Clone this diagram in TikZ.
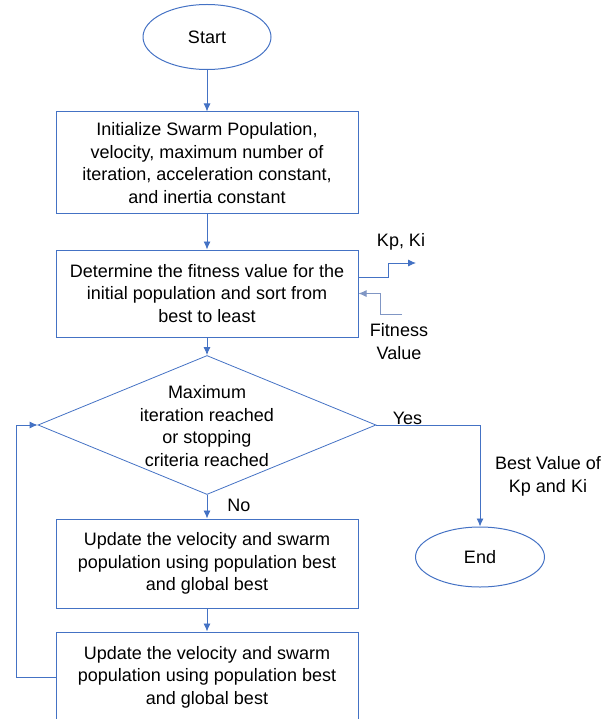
\documentclass[tikz,border=0pt]{standalone}
\usepackage{fontspec}
\setmainfont{Liberation Sans}
\usetikzlibrary{shapes.geometric,arrows.meta}
\definecolor{flowblue}{RGB}{68,114,196}
\definecolor{feedblue}{RGB}{128,150,196}

\begin{document}
\begin{tikzpicture}[x=1pt,y=-1pt,
    every node/.style={font=\fontsize{18}{22.5}\selectfont},
    terminal/.style={draw=flowblue,line width=1pt,ellipse,inner sep=0pt},
    process/.style={draw=flowblue,line width=1pt,rectangle,minimum width=302pt,align=center,inner sep=0pt},
    arr/.style={draw=flowblue,line width=0.9pt,-{Latex[length=8pt,width=7pt]}}]
  \useasboundingbox (0,0) rectangle (615,719);
  \clip (0,0) rectangle (615,719);
  % main column
  \node[terminal,minimum width=128pt,minimum height=65pt] (start) at (207,37) {Start};
  \node[process,minimum height=102pt] (init) at (207,163)
    {Initialize Swarm Population,\\velocity, maximum number of\\iteration, acceleration constant,\\and inertia constant};
  \node[process,minimum height=87pt] (fitness) at (207,293.5)
    {Determine the fitness value for the\\initial population and sort from\\best to least};
  \node[draw=flowblue,line width=0.8pt,diamond,minimum width=338pt,minimum height=139pt,inner sep=0pt] (check) at (207,425) {};
  \node[align=center] (checktext) at (207,426)
    {Maximum\\iteration reached\\or stopping\\criteria reached};
  \node[process,minimum height=89pt] (update1) at (207,563.5)
    {Update the velocity and swarm\\population using population best\\and global best};
  \node[process,minimum height=90pt] (update2) at (207,677)
    {Update the velocity and swarm\\population using population best\\and global best};
  \node[terminal,minimum width=129pt,minimum height=60pt] (stop) at (480,557) {End};
  % labels
  \node (yes) at (407.5,418) {Yes};
  \node (no) at (239,505) {No};
  \node[align=center] (best) at (548,476.5) {Best Value of\\Kp and Ki};
  \node (kp) at (401,242) {Kp, Ki};
  \node[align=center] (fitval) at (399,341.5) {Fitness\\Value};
  % connectors
  \draw[arr] (start) -- (init);
  \draw[arr] (init) -- (fitness);
  \draw[arr] (fitness) -- (check);
  \draw[arr] (check) -- (update1);
  \draw[arr] (update1) -- (update2);
  \draw[arr] (check.east) -| (stop.north);
  \draw[arr] (update2.west) -- ++(-39,0) |- (check.west);
  % controller signals
  \coordinate (kpout) at (416,263);
  \coordinate (fitsrc) at (402,314);
  \draw[arr] ([yshift=16.5pt]fitness.east) -- ++(30,0) |- (kpout);
  \draw[arr,draw=feedblue] (fitsrc) -- ++(-22,0) |- (fitness.east);
\end{tikzpicture}
\end{document}
